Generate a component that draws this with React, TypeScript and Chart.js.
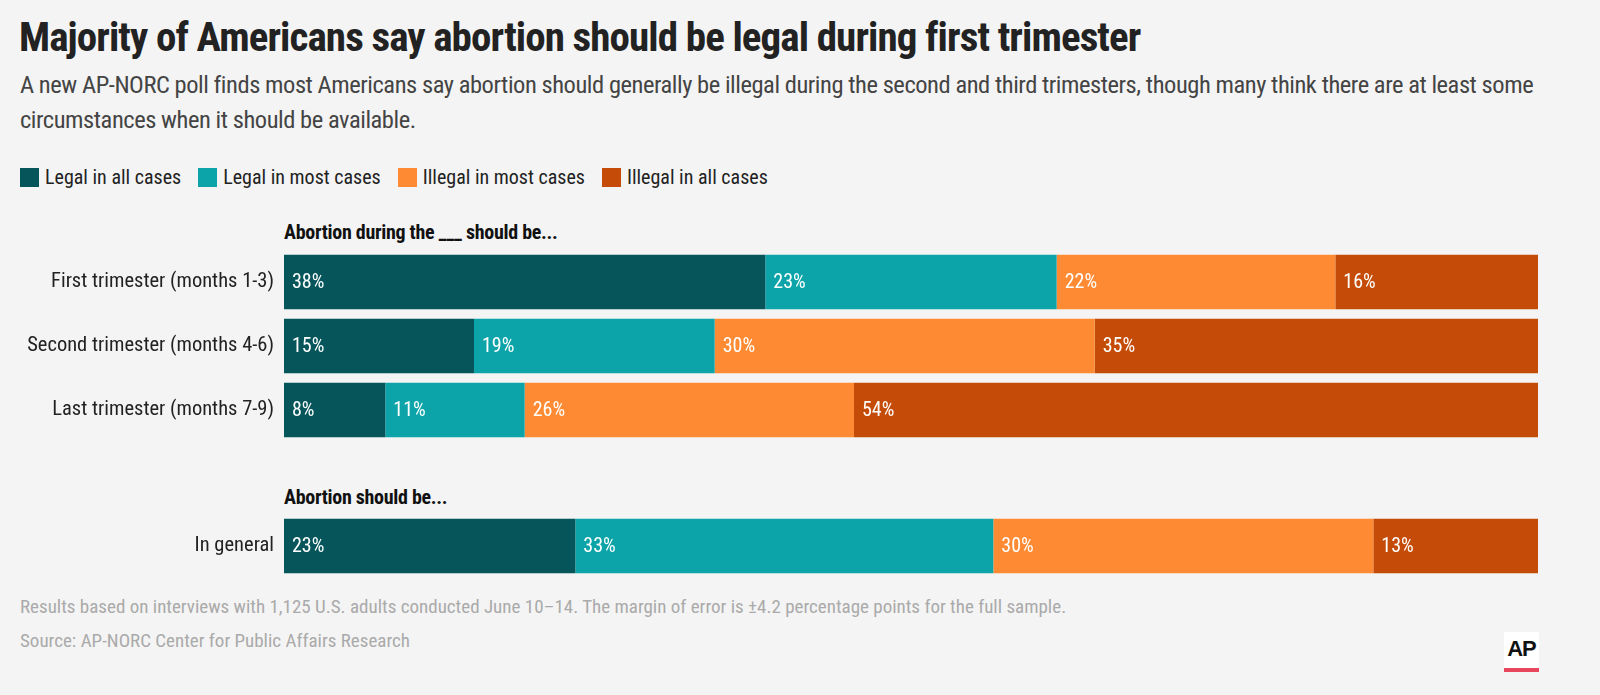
import React, { useEffect, useRef } from "react";
import { Chart, registerables } from "chart.js";

Chart.register(...registerables);

const seriesNames = ["Legal in all cases", "Legal in most cases", "Illegal in most cases", "Illegal in all cases"];
const seriesColors = ["#05555b", "#0ca4a9", "#fe8b33", "#c44c08"];

const trimesterCategories = ["First trimester (months 1-3)", "Second trimester (months 4-6)", "Last trimester (months 7-9)"];
const trimesterLegalAll = [38, 15, 8];
const trimesterLegalMost = [23, 19, 11];
const trimesterIllegalMost = [22, 30, 26];
const trimesterIllegalAll = [16, 35, 54];

const generalCategories = ["In general"];
const generalLegalAll = [23];
const generalLegalMost = [33];
const generalIllegalMost = [30];
const generalIllegalAll = [13];

const FONT = "'Roboto Condensed', 'Liberation Sans Narrow', 'DejaVu Sans Condensed', 'Arial Narrow', sans-serif";

const labelPlugin = {
  id: "segLabels",
  afterDatasetsDraw(chart: any) {
    const ctx = chart.ctx;
    ctx.save();
    ctx.fillStyle = "#ffffff";
    ctx.font = `20px ${FONT}`;
    ctx.textBaseline = "middle";
    ctx.textAlign = "left";
    chart.data.datasets.forEach((ds: any, di: number) => {
      const meta = chart.getDatasetMeta(di);
      meta.data.forEach((bar: any, i: number) => {
        const left = Math.min(bar.x, bar.base);
        ctx.fillText(`${ds.data[i]}%`, left + 8, bar.y + 1);
      });
    });
    ctx.restore();
  },
};

function makeConfig(categories: string[], values: number[][]) {
  return {
    type: "bar" as const,
    data: {
      labels: categories,
      datasets: values.map((v, k) => ({
        label: seriesNames[k],
        data: v,
        backgroundColor: seriesColors[k],
        borderWidth: 0,
        categoryPercentage: 1,
        barPercentage: 0.85,
      })),
    },
    options: {
      indexAxis: "y" as const,
      animation: false as const,
      responsive: false,
      maintainAspectRatio: false,
      layout: { padding: 0, autoPadding: false },
      plugins: { legend: { display: false }, tooltip: { enabled: false } },
      scales: {
        x: { stacked: true, min: 0, max: 99, display: false },
        y: {
          stacked: true,
          grid: { display: false, drawTicks: false },
          border: { display: false },
          ticks: { color: "#222", font: { family: FONT, size: 20.5 }, padding: 10 },
          afterFit(scale: any) {
            scale.width = 284;
            scale.paddingTop = 0;
            scale.paddingBottom = 0;
          },
        },
      },
    },
    plugins: [labelPlugin],
  };
}

function BarChart({ categories, values, width, height }: { categories: string[]; values: number[][]; width: number; height: number }) {
  const ref = useRef<HTMLCanvasElement | null>(null);
  useEffect(() => {
    if (!ref.current) return;
    const chart = new Chart(ref.current, makeConfig(categories, values) as any);
    return () => chart.destroy();
  }, []);
  return <canvas ref={ref} width={width} height={height} style={{ width, height, display: "block" }} />;
}

export default function App() {
  const abs = (left: number, top: number): React.CSSProperties => ({ position: "absolute", left, top });
  return (
    <div style={{ position: "fixed", left: 0, top: 0, width: 1600, height: 695, background: "#f4f4f4", fontFamily: FONT, overflow: "hidden" }}>
      <div style={{ ...abs(19, 12), fontSize: 41, fontWeight: 700, color: "#222", whiteSpace: "nowrap", lineHeight: "50px", letterSpacing: -0.9 }}>
        Majority of Americans say abortion should be legal during first trimester
      </div>
      <div style={{ ...abs(20, 67), width: 1560, fontSize: 24.5, color: "#444", lineHeight: "35px", letterSpacing: -0.45 }}>
        A new AP-NORC poll finds most Americans say abortion should generally be illegal during the second and third trimesters, though many think there are at least some circumstances when it should be available.
      </div>
      <div style={{ ...abs(20, 164), display: "flex", alignItems: "center", fontSize: 20, color: "#222", lineHeight: "26px" }}>
        {seriesNames.map((n, k) => (
          <div key={n} style={{ display: "flex", alignItems: "center", marginRight: 17 }}>
            <span style={{ width: 19, height: 19, background: seriesColors[k], display: "inline-block", marginRight: 6 }} />
            <span>{n}</span>
          </div>
        ))}
      </div>
      <div style={{ ...abs(284, 219), fontSize: 20, fontWeight: 700, color: "#111", lineHeight: "26px", letterSpacing: -0.3 }}>
        Abortion during the ___ should be...
      </div>
      <div style={abs(0, 250)}>
        <BarChart
          categories={trimesterCategories}
          values={[trimesterLegalAll, trimesterLegalMost, trimesterIllegalMost, trimesterIllegalAll]}
          width={1538}
          height={192}
        />
      </div>
      <div style={{ ...abs(284, 484), fontSize: 20, fontWeight: 700, color: "#111", lineHeight: "26px", letterSpacing: -0.3 }}>
        Abortion should be...
      </div>
      <div style={abs(0, 514)}>
        <BarChart
          categories={generalCategories}
          values={[generalLegalAll, generalLegalMost, generalIllegalMost, generalIllegalAll]}
          width={1538}
          height={64}
        />
      </div>
      <div style={{ ...abs(20, 594), fontSize: 19, color: "#aaa", lineHeight: "26px" }}>
        Results based on interviews with 1,125 U.S. adults conducted June 10–14. The margin of error is ±4.2 percentage points for the full sample.
      </div>
      <div style={{ ...abs(20, 628), fontSize: 19, color: "#aaa", lineHeight: "26px" }}>
        Source: AP-NORC Center for Public Affairs Research
      </div>
      <div style={{ ...abs(1504, 632), width: 35, height: 40, background: "#fff" }}>
        <div style={{ position: "absolute", left: 0, top: 5, width: 35, textAlign: "center", fontFamily: "'Liberation Sans', Arial, sans-serif", fontWeight: 700, fontSize: 22, color: "#111", lineHeight: "24px", letterSpacing: -1 }}>AP</div>
        <div style={{ position: "absolute", left: 0, top: 36, width: 35, height: 4, background: "#e8455f" }} />
      </div>
    </div>
  );
}
